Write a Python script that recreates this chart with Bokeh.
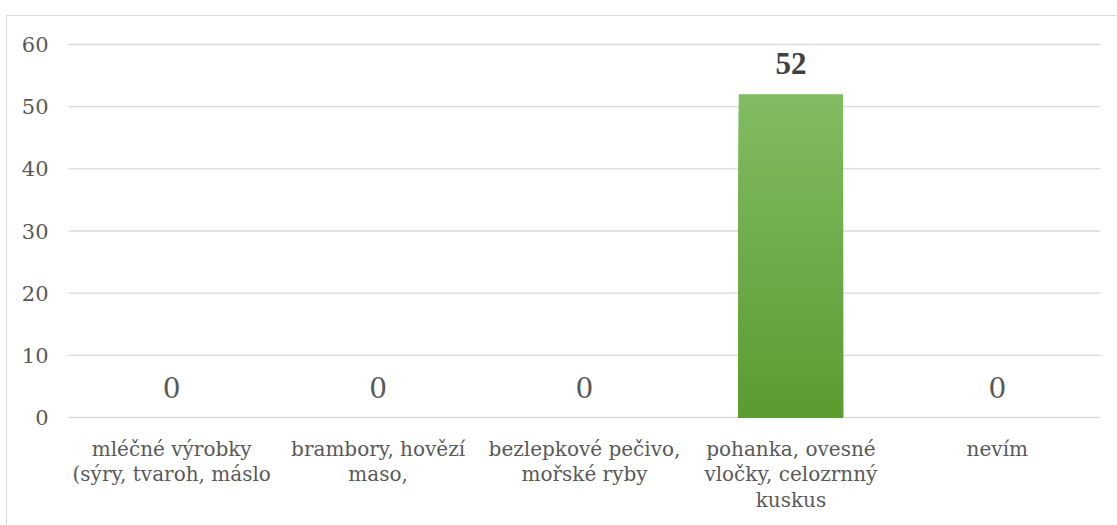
from bokeh.plotting import figure
from bokeh.models import ColumnDataSource, Range1d
from bokeh.core.properties import value
from bokeh.embed import file_html
from bokeh.resources import INLINE

categories = [
    "mléčné výrobky\n(sýry, tvaroh, máslo",
    "brambory, hovězí\nmaso,",
    "bezlepkové pečivo,\nmořské ryby",
    "pohanka, ovesné\nvločky, celozrnný\nkuskus",
    "nevím",
]
values = [0, 0, 0, 52, 0]
y_ticks = [0, 10, 20, 30, 40, 50, 60]

FONT_BOLD = "'Liberation Serif', 'Times New Roman', serif"
FONT_REG = "'DejaVu Serif', serif"

# layout (pixels inside the canvas)
W, H = 1110, 509
PL, PR, PT, PB = 61, 17, 28, 108          # plot-area insets
n = len(categories)
ymax = y_ticks[-1]
px_per_cat = (W - PL - PR) / n
px_per_unit = (H - PT - PB) / ymax

p = figure(
    x_range=Range1d(-PL / px_per_cat, n + PR / px_per_cat),
    y_range=Range1d(-PB / px_per_unit, ymax + PT / px_per_unit),
    width=W, height=H,
    output_backend="svg", toolbar_location=None, tools="",
    x_axis_location=None, y_axis_location=None,
    min_border=0,
)
p.margin = (15, 0, 0, 6)
p.styles = {"border-top": "1px solid #d9d9d9", "border-left": "1px solid #d9d9d9"}
p.outline_line_color = None
p.grid.visible = False
p.background_fill_color = "white"
p.border_fill_color = "white"

xc = [i + 0.5 for i in range(n)]

# horizontal grid lines across the plot area
p.segment(x0=[0] * len(y_ticks), x1=[n] * len(y_ticks), y0=y_ticks, y1=y_ticks,
          line_color="#d9d9d9", line_width=1.4)

# gradient bar: nested slices drawn tallest first so no seams show
N = 40
top_rgb = (0x82, 0xbc, 0x63)
bot_rgb = (0x5a, 0x9c, 0x30)
seg_x, seg_t, seg_c = [], [], []
for x, v in zip(xc, values):
    if v <= 0:
        continue
    for k in range(N - 1, -1, -1):
        f = (k + 0.5) / N
        r = int(bot_rgb[0] + (top_rgb[0] - bot_rgb[0]) * f)
        g = int(bot_rgb[1] + (top_rgb[1] - bot_rgb[1]) * f)
        b = int(bot_rgb[2] + (top_rgb[2] - bot_rgb[2]) * f)
        seg_x.append(x)
        seg_t.append(v * (k + 1) / N)
        seg_c.append("#%02x%02x%02x" % (r, g, b))
p.vbar(x=seg_x, bottom=0, top=seg_t, width=0.505, fill_color=seg_c, line_color=None)

# data labels: the highest value bold, the others regular
vmax = max(values)
hi = [i for i, v in enumerate(values) if v == vmax]
lo = [i for i, v in enumerate(values) if v != vmax]
p.text(x=[xc[i] for i in hi], y=[values[i] for i in hi], text=[str(values[i]) for i in hi],
       text_align="center", text_baseline="alphabetic", y_offset=-31,
       text_font=value(FONT_BOLD), text_font_size="31px", text_font_style="bold",
       text_color="#404040")
p.text(x=[xc[i] for i in lo], y=[values[i] for i in lo], text=[str(values[i]) for i in lo],
       text_align="center", text_baseline="alphabetic", y_offset=-30,
       text_font=value(FONT_REG), text_font_size="28px", text_color="#595959")

# y tick labels
p.text(x=[0] * len(y_ticks), y=y_ticks, text=[str(t) for t in y_ticks],
       x_offset=-20, y_offset=0, text_align="right", text_baseline="alphabetic",
       text_font=value(FONT_REG), text_font_size="21px", text_color="#595959")

# category labels, one text per wrapped line
LINE_H = 25.5
lx, lt, loff = [], [], []
for x, cat in zip(xc, categories):
    for j, line in enumerate(cat.split("\n")):
        lx.append(x)
        lt.append(line)
        loff.append(31 + LINE_H * j)
csrc = ColumnDataSource(dict(x=lx, y=[0] * len(lx), t=lt, off=loff))
p.text(x="x", y="y", text="t", source=csrc, y_offset="off",
       text_align="center", text_baseline="alphabetic",
       text_font=value(FONT_REG), text_font_size="20px", text_color="#595959")

open("out.html", "w").write(file_html(p, INLINE))
